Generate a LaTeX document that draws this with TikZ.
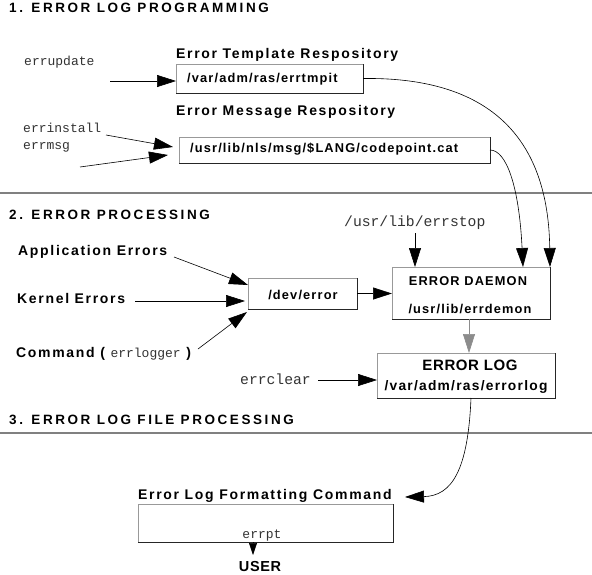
\documentclass[tikz,border=0pt]{standalone}
\usepackage{fontspec}
\setmainfont{Liberation Sans}
\newfontfamily\secf[LetterSpace=19]{Liberation Sans}
\newfontfamily\lblf[LetterSpace=12]{Liberation Sans}
\newfontfamily\boxf[LetterSpace=9]{Liberation Sans}
\newfontfamily\bigf[LetterSpace=4]{Liberation Sans}
\newfontfamily\monof{Liberation Mono}
\usetikzlibrary{arrows.meta}
\begin{document}
\begin{tikzpicture}[x=1pt,y=-1pt,
  sec/.style={anchor=base west, inner sep=0pt, font=\secf\bfseries\fontsize{13.5}{15}\selectfont},
  lbl/.style={anchor=base west, inner sep=0pt, font=\lblf\bfseries\fontsize{14}{16}\selectfont},
  btxt/.style={anchor=base, inner sep=0pt, font=\boxf\bfseries\fontsize{12.8}{14}\selectfont},
  bigtxt/.style={anchor=base, inner sep=0pt, font=\bigf\bfseries\fontsize{15}{17}\selectfont},
  monos/.style={anchor=base west, inner sep=0pt, text=black!80, font=\monof\fontsize{13}{15}\selectfont},
  monol/.style={anchor=base west, inner sep=0pt, text=black!80, font=\monof\fontsize{14.7}{17}\selectfont},
  framebox/.style={draw=black!40, line width=0.9pt, inner sep=0pt, outer sep=0pt},
  darkedge/.style={draw=black!85, line width=0.9pt},
  sepline/.style={draw=black!50, line width=1.8pt},
  arr/.style={line width=0.6pt, -{Triangle[length=19pt,width=12pt]}},
  smallarr/.style={line width=0.6pt, -{Triangle[length=12pt,width=8pt]}}
]
\useasboundingbox (0,0) rectangle (592,574);
\fill[white] (0,0) rectangle (592,574);

% ---------- section 1
\node[sec] (t1) at (9,12) {1. ERROR LOG PROGRAMMING};
\node[monos] (errupdate) at (24,65) {errupdate};
\node[lbl] (lblT) at (176,58) {Error Template Respository};
\node[framebox, minimum width=187pt, minimum height=29pt] (b1) at (269.5,78.5) {};
\draw[darkedge] (b1.north east) -- (b1.south east) -- (b1.south west);
\node[btxt, anchor=base west] (b1t) at (187,82) {/var/adm/ras/errtmpit};

\node[lbl] (lblM) at (176,115) {Error Message Respository};
\node[monos] (errinstall) at (23,132) {errinstall};
\node[monos] (errmsg) at (23,149) {errmsg};
\node[framebox, minimum width=311pt, minimum height=26pt] (b2) at (334.5,150) {};
\draw[darkedge] (b2.north east) -- (b2.south east) -- (b2.south west);
\node[btxt, anchor=base west] (b2t) at (190,152) {/usr/lib/nls/msg/\$LANG/codepoint.cat};

\coordinate (a1s) at (110,81);
\draw[arr] (a1s) -- (b1.west |- a1s);
\coordinate (a2s) at (106,135);
\coordinate (a2e) at (173,147);
\draw[arr] (a2s) -- (a2e);
\coordinate (a3s) at (80,167);
\coordinate (a3e) at (168,155);
\draw[arr] (a3s) -- (a3e);

\coordinate (s1l) at (0,193);
\coordinate (s1r) at (592,193);
\draw[sepline] (s1l) -- (s1r);

% ---------- section 2
\node[sec] (t2) at (9,219) {2. ERROR PROCESSING};
\node[monol] (errstop) at (344,226) {/usr/lib/errstop};
\node[lbl] (app) at (18,255) {Application Errors};
\node[lbl] (kern) at (17,303) {Kernel Errors};
\node[lbl] (cmd) at (16,357) {Command ( \monof\mdseries\fontsize{13}{15}\selectfont\textcolor{black!80}{errlogger}\lblf\bfseries\fontsize{14}{16}\selectfont\ )};

\node[framebox, minimum width=109pt, minimum height=31pt] (dev) at (302.5,293.5) {};
\draw[darkedge] (dev.north east) -- (dev.south east) -- (dev.south west);
\node[btxt] (devt) at (303,299) {/dev/error};

\node[framebox, minimum width=158pt, minimum height=52pt] (daemon) at (471,293) {};
\draw[darkedge] (daemon.north east) -- (daemon.south east) -- (daemon.south west);
\node[btxt] (dmt1) at (468,285) {ERROR DAEMON};
\node[btxt] (dmt2) at (470,313) {/usr/lib/errdemon};

\node[framebox, minimum width=178pt, minimum height=45pt] (log) at (466,375.5) {};
\draw[darkedge] (log.north east) -- (log.south east) -- (log.south west);
\node[bigtxt] (logt1) at (470,370) {ERROR LOG};
\node[btxt, font=\boxf\bfseries\fontsize{13.8}{15}\selectfont] (logt2) at (466,390) {/var/adm/ras/errorlog};
\node[monol] (errclear) at (240,384) {errclear};

\coordinate (appS) at (174,257);
\coordinate (appE) at (248,285);
\draw[arr] (appS) -- (appE);
\coordinate (kerS) at (135,301);
\coordinate (kerE) at (245,301);
\draw[arr] (kerS) -- (kerE);
\coordinate (cmdS) at (198,349);
\coordinate (cmdE) at (247,312);
\draw[arr] (cmdS) -- (cmdE);
\draw[arr] (dev.east) -- (daemon.west |- dev.east);
\coordinate (esS) at (415,233);
\draw[arr] (esS) -- (esS |- daemon.north);
\draw[arr, draw=black!45] ([xshift=-2pt]daemon.south) -- ([xshift=-2pt]daemon.south |- log.north);
\coordinate (ecS) at (318,380);
\draw[arr] (ecS) -- (log.west |- ecS);

\draw[arr] (b1.east) .. controls (470,77) and (548,120) .. (daemon.north east);
\draw[arr] (b2.east) .. controls (506,150) and (519,185) .. ([xshift=52pt]daemon.north);

% ---------- section 3
\node[sec] (t3) at (9,424) {3. ERROR LOG FILE PROCESSING};
\coordinate (s2l) at (0,433);
\coordinate (s2r) at (592,433);
\draw[sepline] (s2l) -- (s2r);

\node[lbl] (fmtl) at (138,499) {Error Log Formatting Command};
\node[framebox, minimum width=255pt, minimum height=38pt] (fmt) at (265.5,523) {};
\draw[darkedge] (fmt.north east) -- (fmt.south east) -- (fmt.south west);
\node[monos, anchor=base] (errpt) at (262,538) {errpt};
\node[bigtxt, font=\bigf\bfseries\fontsize{14.5}{16}\selectfont] (user) at (260,571) {USER};

\coordinate (fmtTip) at (405,497);
\draw[arr] ([xshift=5pt]log.south) .. controls (468,470) and (452,496) .. (fmtTip);
\coordinate (upE) at (253,555);
\draw[smallarr] (fmt.south -| upE) -- (upE);
\end{tikzpicture}
\end{document}
